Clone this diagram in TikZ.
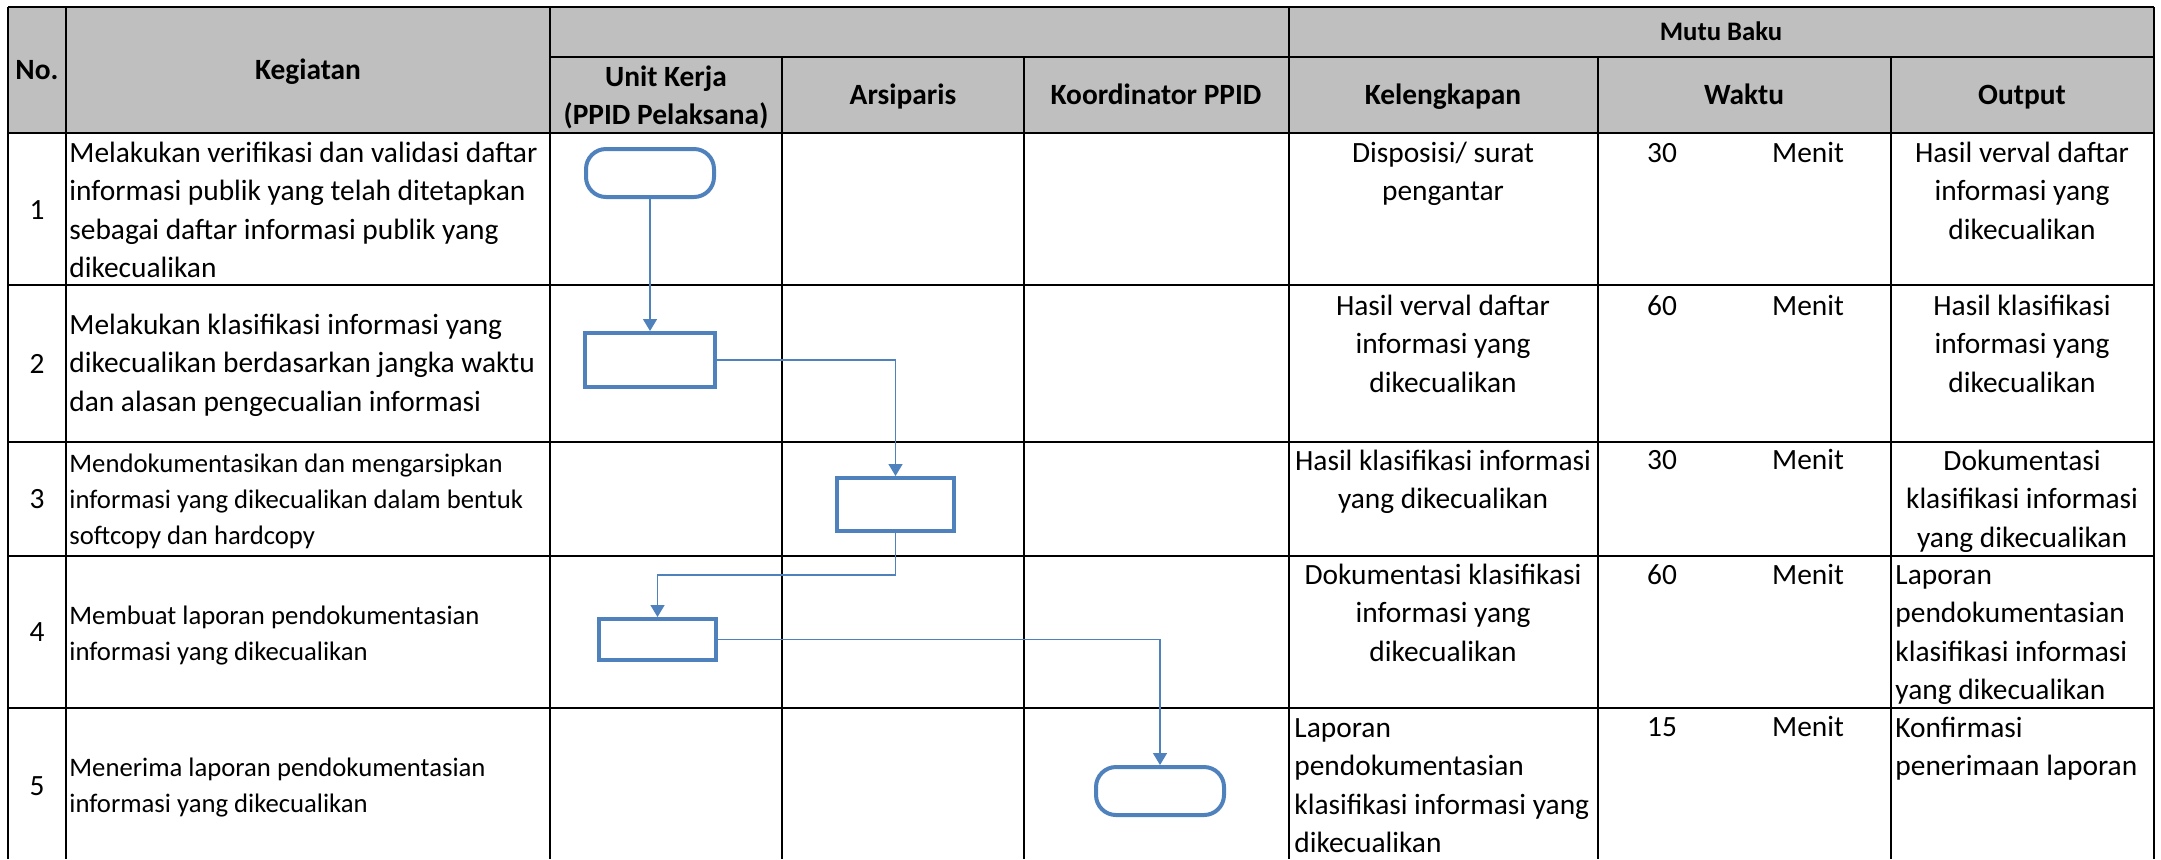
\documentclass[tikz,border=0pt]{standalone}
\usepackage{fontspec}
\setmainfont{Carlito}
\usetikzlibrary{arrows.meta}
\definecolor{hdr}{RGB}{191,191,191}
\definecolor{flow}{RGB}{79,129,189}
\newcommand\fA{\fontsize{14.7}{19.25}\selectfont}
\newcommand\fB{\fontsize{13.35}{18}\selectfont}
\begin{document}
\begin{tikzpicture}[x=0.5pt,y=-0.5pt,
  gridline/.style={line width=1.2pt, black},
  hb/.style={font=\fA\bfseries, inner sep=0pt, anchor=base},
  num/.style={font=\fA, inner sep=0pt, anchor=base},
  leftA/.style={font=\fA, inner sep=0pt, anchor=north west, align=left},
  leftB/.style={font=\fB, inner sep=0pt, anchor=north west, align=left},
  cenA/.style={font=\fA, inner sep=0pt, anchor=north, align=center},
  term/.style={draw=flow, line width=2pt, rounded corners=10pt, minimum width=64pt, minimum height=24pt, inner sep=0pt},
  proc/.style={draw=flow, line width=2pt, inner sep=0pt},
  conn/.style={draw=flow, line width=0.75pt, -{Triangle[length=6pt,width=7pt]}}]
\useasboundingbox (0,0) rectangle (2161,859);
% header fill
\fill[hdr] (8,7) rectangle (2154,133);
% horizontal lines
\draw[gridline] (8,7) -- (2154,7);
\draw[gridline] (550,57) -- (2154,57);
\foreach \yy in {133,285,442,556,708} \draw[gridline] (8,\yy) -- (2154,\yy);
% vertical lines
\foreach \xx in {8,66,550,1289,2154} \draw[gridline] (\xx,7) -- (\xx,859);
\foreach \xx in {782,1024,1598,1891} \draw[gridline] (\xx,57) -- (\xx,859);
% header texts
\node[hb] (hNo) at (37,79) {No.};
\node[hb] (hKeg) at (308,79) {Kegiatan};
\node[font=\fA\bfseries, inner sep=0pt, anchor=north, align=center] (hUnit) at (666,59) {\strut Unit Kerja\\(PPID Pelaksana)};
\node[hb] (hArs) at (903,104) {Arsiparis};
\node[hb] (hKoor) at (1156,104) {Koordinator PPID};
\node[hb] (hKel) at (1443,104) {Kelengkapan};
\node[hb] (hWak) at (1744,104) {Waktu};
\node[hb] (hOut) at (2022,104) {Output};
\node[font=\fB\bfseries, inner sep=0pt, anchor=base] (hMutu) at (1721,40) {Mutu Baku};
% numbers
\node[num] (n1) at (37,219) {1};
\node[num] (n2) at (37,373) {2};
\node[num] (n3) at (37,508) {3};
\node[num] (n4) at (37,641) {4};
\node[num] (n5) at (37,795) {5};
% kegiatan
\node[leftA] (k1) at (69,135) {\strut Melakukan verifikasi dan validasi daftar\\informasi publik yang telah ditetapkan\\sebagai daftar informasi publik yang\\dikecualikan};
\node[leftA] (k2) at (69,307) {\strut Melakukan klasifikasi informasi yang\\dikecualikan berdasarkan jangka waktu\\dan alasan pengecualian informasi};
\node[leftB] (k3) at (69,447) {\strut Mendokumentasikan dan mengarsipkan\\informasi yang dikecualikan dalam bentuk\\softcopy dan hardcopy};
\node[leftB] (k4) at (69,599) {\strut Membuat laporan pendokumentasian\\informasi yang dikecualikan};
\node[leftB] (k5) at (69,751) {\strut Menerima laporan pendokumentasian\\informasi yang dikecualikan};
% kelengkapan
\node[cenA] (l1) at (1443,135) {\strut Disposisi/ surat\\pengantar};
\node[cenA] (l2) at (1443,288) {\strut Hasil verval daftar\\informasi yang\\dikecualikan};
\node[cenA] (l3) at (1443,443) {\strut Hasil klasifikasi informasi\\yang dikecualikan};
\node[cenA] (l4) at (1443,557) {\strut Dokumentasi klasifikasi\\informasi yang\\dikecualikan};
\node[leftA] (l5) at (1294,710) {\strut Laporan\\pendokumentasian\\klasifikasi informasi yang\\dikecualikan};
% waktu
\node[num] (w1) at (1662,162) {30};
\node[num] (m1) at (1808,162) {Menit};
\node[num] (w2) at (1662,315) {60};
\node[num] (m2) at (1808,315) {Menit};
\node[num] (w3) at (1662,469) {30};
\node[num] (m3) at (1808,469) {Menit};
\node[num] (w4) at (1662,584) {60};
\node[num] (m4) at (1808,584) {Menit};
\node[num] (w5) at (1662,736) {15};
\node[num] (m5) at (1808,736) {Menit};
% output
\node[cenA] (o1) at (2022,135) {\strut Hasil verval daftar\\informasi yang\\dikecualikan};
\node[cenA] (o2) at (2022,288) {\strut Hasil klasifikasi\\informasi yang\\dikecualikan};
\node[cenA] (o3) at (2022,443) {\strut Dokumentasi\\klasifikasi informasi\\yang dikecualikan};
\node[leftA] (o4) at (1895,557) {\strut Laporan\\pendokumentasian\\klasifikasi informasi\\yang dikecualikan};
\node[leftA] (o5) at (1895,710) {\strut Konfirmasi\\penerimaan laporan};
% flow shapes
\node[term] (t1) at (650,173) {};
\node[proc, minimum width=65pt, minimum height=27pt] (r2) at (650,360) {};
\node[proc, minimum width=58.5pt, minimum height=26.5pt] (r3) at (895.5,504.5) {};
\node[proc, minimum width=58.5pt, minimum height=20.5pt] (r4) at (657.5,639.5) {};
\node[term] (t5) at (1160,791) {};
\coordinate (j34) at (895.5,575);
% connectors
\draw[conn] (t1.south) -- (r2.north);
\draw[conn] (r2.east) -| (r3.north);
\draw[conn] (r3.south) -- (j34) -| (r4.north);
\draw[conn] (r4.east) -| (t5.north);
\end{tikzpicture}
\end{document}
